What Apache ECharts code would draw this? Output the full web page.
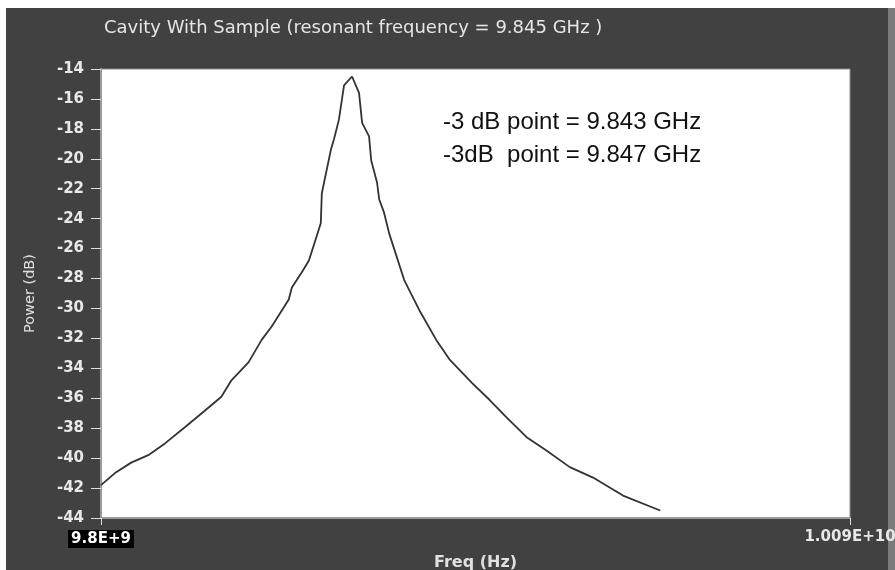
<!DOCTYPE html>
<html>
<head>
<meta charset="utf-8">
<script src="https://cdn.jsdelivr.net/npm/echarts@6/dist/echarts.min.js"></script>
<style>html,body{margin:0;padding:0;background:#fff}#c{width:895px;height:570px}</style>
</head>
<body>
<div id="c"></div>
<script>
// Frequency in GHz, power in dB
var freqGHz = [9.8000, 9.8054, 9.8117, 9.8183, 9.8249, 9.8327, 9.8404, 9.8466, 9.8505, 9.8571,
  9.8622, 9.8661, 9.8727, 9.8739, 9.8777, 9.8805, 9.8851, 9.8855, 9.8890, 9.8902, 9.8921, 9.8941,
  9.8972, 9.8999, 9.9011, 9.9038, 9.9046, 9.9069, 9.9077, 9.9096, 9.9116, 9.9174, 9.9232, 9.9298,
  9.9349, 9.9438, 9.9504, 9.9571, 9.9648, 9.9726, 9.9815, 9.9905, 10.0021, 10.0165];
var powerDb = [-41.8, -41.0, -40.3, -39.8, -39.0, -37.9, -36.8, -35.9, -34.8, -33.6,
  -32.1, -31.2, -29.4, -28.6, -27.6, -26.8, -24.3, -22.3, -19.4, -18.7, -17.4, -15.1,
  -14.5, -15.6, -17.6, -18.5, -20.1, -21.6, -22.7, -23.6, -25.0, -28.1, -30.1, -32.1,
  -33.4, -35.0, -36.1, -37.3, -38.6, -39.5, -40.6, -41.3, -42.5, -43.5];
var xTickValues = [9.8, 10.09];
var xTickLabels = {'9.8': '9.8E+9', '10.09': '1.009E+10'};
var titleText = 'Cavity With Sample (resonant frequency = 9.845 GHz )';
var noteLines = ['-3 dB point = 9.843 GHz', '-3dB  point = 9.847 GHz'];

var data = freqGHz.map(function (f, i) { return [f, powerDb[i]]; });
var chart = echarts.init(document.getElementById('c'));
var noteFont = '24px "Liberation Sans", Arial, sans-serif';
chart.setOption({
  backgroundColor: '#ffffff',
  animation: false,
  graphic: [
    {type: 'rect', z: -10, silent: true, shape: {x: 6, y: 8, width: 882, height: 562}, style: {fill: '#414141'}},
    {type: 'rect', z: -10, silent: true, shape: {x: 888, y: 8, width: 7, height: 562}, style: {fill: '#7a7a7a'}},
    {type: 'text', z: 10, x: 443, y: 122, style: {text: noteLines[0], font: noteFont, fill: '#111', verticalAlign: 'middle'}},
    {type: 'text', z: 10, x: 443, y: 155, style: {text: noteLines[1], font: noteFont, fill: '#111', verticalAlign: 'middle'}}
  ],
  title: {
    text: titleText, left: 99, top: 14,
    textStyle: {color: '#e6e6e6', fontSize: 18, fontWeight: 'normal', fontFamily: 'DejaVu Sans'}
  },
  grid: {left: 101, top: 69, right: 45, bottom: 52, outerBoundsMode: 'none', containLabel: false,
    show: true, backgroundColor: '#ffffff', borderColor: '#8a8a8a', borderWidth: 1},
  xAxis: {
    type: 'value', min: 9.8, max: 10.09,
    name: 'Freq (Hz)', nameLocation: 'middle', nameGap: 37,
    nameTextStyle: {color: '#e0e0e0', fontSize: 16, fontWeight: 'bold', fontFamily: 'DejaVu Sans'},
    axisLine: {show: true, lineStyle: {color: '#9a9a9a', width: 2}},
    axisTick: {show: true, customValues: xTickValues, length: 7, lineStyle: {color: '#e0e0e0'}},
    axisLabel: {
      customValues: xTickValues, margin: 12,
      formatter: function (v) {
        var s = xTickLabels[String(Math.round(v * 100) / 100)] || '';
        return v < 9.9 ? '{hl|' + s + '}' : s;
      },
      color: '#e8e8e8', fontSize: 15, fontWeight: 'bold', fontFamily: 'DejaVu Sans',
      rich: {hl: {backgroundColor: '#000000', color: '#ffffff', fontSize: 15, fontWeight: 'bold', fontFamily: 'DejaVu Sans', padding: [2, 3, 1, 3]}}
    },
    splitLine: {show: false}
  },
  yAxis: {
    type: 'value', min: -44, max: -14, interval: 2,
    name: 'Power (dB)', nameLocation: 'middle', nameGap: 63, nameRotate: 90,
    nameTextStyle: {color: '#e0e0e0', fontSize: 14.5, fontFamily: 'DejaVu Sans'},
    axisLine: {show: true, lineStyle: {color: '#9a9a9a', width: 2}},
    axisTick: {show: true, length: 10, lineStyle: {color: '#e0e0e0'}},
    axisLabel: {color: '#e8e8e8', fontSize: 15, fontWeight: 'bold', fontFamily: 'DejaVu Sans', margin: 17},
    splitLine: {show: false}
  },
  series: [{
    type: 'line', data: data, showSymbol: false, smooth: false,
    lineStyle: {color: '#333333', width: 1.8}
  }]
});
</script>
</body>
</html>
